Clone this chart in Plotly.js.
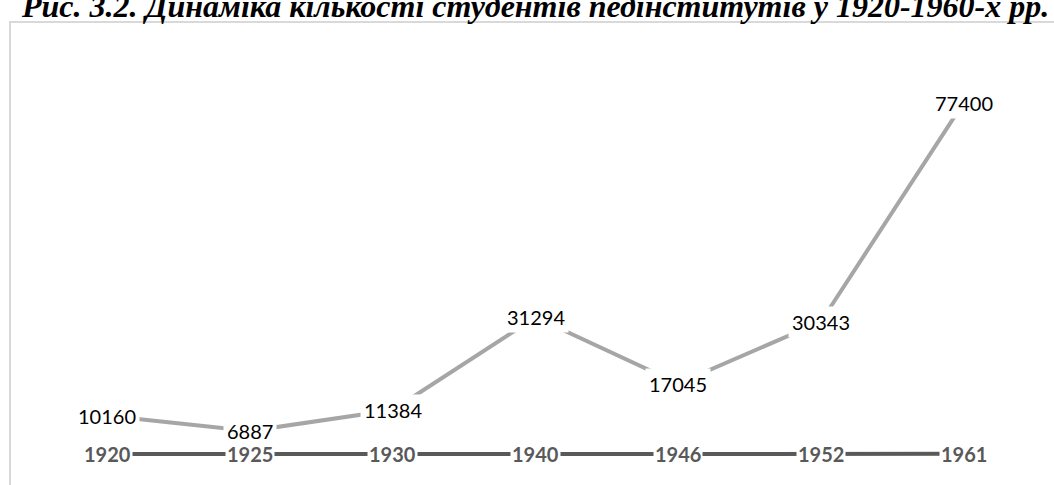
<!DOCTYPE html>
<html>
<head>
<meta charset="utf-8">
<script src="https://cdn.plot.ly/plotly-3.0.1.min.js"></script>
<style>html,body{margin:0;padding:0;background:#fff;}#chart{width:1054px;height:485px;}</style>
</head>
<body>
<div id="chart"></div>
<script>
const titleText = 'Рис. 3.2. Динаміка кількості студентів педінститутів у 1920-1960-х рр.';
const years = ['1920', '1925', '1930', '1940', '1946', '1952', '1961'];
const students = [10160, 6887, 11384, 31294, 17045, 30343, 77400];
const yearValues = [1920, 1925, 1930, 1940, 1946, 1952, 1961];

const traces = [
  {x: years, y: yearValues, type: 'scatter', mode: 'lines',
   line: {color: '#595959', width: 4}, hoverinfo: 'skip', showlegend: false},
  {x: years, y: students, type: 'scatter', mode: 'lines',
   line: {color: '#a6a6a6', width: 4}, hoverinfo: 'skip', showlegend: false}
];

const L = 36, R = 19, T = 44, B = 22, W = 1054, H = 485;
const pw = W - L - R, ph = H - T - B;

const annotations = [];
years.forEach((yr, i) => {
  annotations.push({x: i, y: students[i], xref: 'x', yref: 'y', text: String(students[i]),
    showarrow: false, bgcolor: '#ffffff', borderpad: 3,
    font: {family: 'Lato, Carlito, sans-serif', size: 20, color: '#000000'}});
  annotations.push({x: i, y: yearValues[i], xref: 'x', yref: 'y', text: '<b>' + yr + '</b>',
    showarrow: false, bgcolor: '#ffffff', borderpad: 1,
    font: {family: 'Lato, Carlito, sans-serif', size: 20, color: '#595959'}});
});
annotations.push({x: (535 - L) / pw, xref: 'paper', y: (H - B - 26) / ph, yref: 'paper',
  xanchor: 'center', yanchor: 'bottom',
  text: '<b><i>' + titleText + '</i></b>', showarrow: false,
  font: {family: '"Liberation Serif", "Times New Roman", serif', size: 32, color: '#000000'}});

const layout = {
  width: W, height: H,
  margin: {l: L, r: R, t: T, b: B, pad: 0},
  paper_bgcolor: '#ffffff', plot_bgcolor: '#ffffff',
  showlegend: false,
  xaxis: {type: 'category', range: [-0.5, 6.5], showgrid: false, zeroline: false,
          showticklabels: false, showline: false, ticks: ''},
  yaxis: {range: [0, 90000], showgrid: false, zeroline: false, showticklabels: false,
          showline: false, ticks: ''},
  shapes: [{type: 'rect', xref: 'paper', yref: 'paper',
            x0: (10 - L) / pw, x1: (W + 20 - L) / pw, y0: -0.08, y1: (H - B - 22) / ph,
            line: {color: '#d9d9d9', width: 2}, fillcolor: 'rgba(0,0,0,0)', layer: 'below'}],
  annotations: annotations
};

Plotly.newPlot('chart', traces, layout, {displayModeBar: false, staticPlot: true});
</script>
</body>
</html>
